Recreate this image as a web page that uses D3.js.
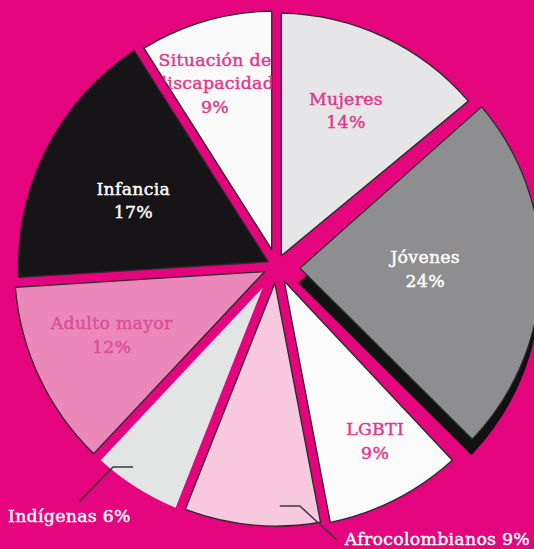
<!DOCTYPE html>
<html>
<head>
<meta charset="utf-8">
<script src="https://cdn.jsdelivr.net/npm/d3@7"></script>
<style>
  html, body { margin: 0; padding: 0; background: #e4047e; }
  svg { display: block; }
  text { font-family: "DejaVu Serif", "Liberation Serif", serif; font-size: 17.3px; letter-spacing: 0.3px; stroke-width: 0.45px; }
</style>
</head>
<body>
<svg id="chart" width="534" height="549"></svg>
<script>
// Population groups and their share of the total (%), clockwise from 12 o'clock
const categories = ["Mujeres", "Jóvenes", "LGBTI", "Afrocolombianos", "Indígenas",
                    "Adulto mayor", "Infancia", "Situación de discapacidad"];
const shares = [14, 24, 9, 9, 6, 12, 17, 9];
// How each category name is broken over lines inside its slice
const nameLines = [["Mujeres"], ["Jóvenes"], ["LGBTI"], ["Afrocolombianos"], ["Indígenas"],
                   ["Adulto mayor"], ["Infancia"], ["Situación de", "discapacidad"]];
// Groups labelled outside the pie with a leader line
const calloutGroups = ["Afrocolombianos", "Indígenas"];

// ---- styling ----
const W = 534, H = 549;
const cx = 276.5, cy = 266;          // pie centre
const halfGap = 4.8;                 // half width of the magenta gap between slices
const bg = "#e4047e";
const fills = {
  "Mujeres": "#e6e6e8", "Jóvenes": "#8e8e90", "LGBTI": "#fbfbfb", "Afrocolombianos": "#f8c8de",
  "Indígenas": "#e3e5e5", "Adulto mayor": "#ec88b9", "Infancia": "#161416",
  "Situación de discapacidad": "#fafafa"
};
const outerR = {
  "Mujeres": 253, "Jóvenes": 248, "LGBTI": 262, "Afrocolombianos": 260, "Indígenas": 262,
  "Adulto mayor": 262, "Infancia": 258, "Situación de discapacidad": 255
};
const outlined = { "Indígenas": false };
const textColor = {
  "Mujeres": "#e0388c", "Jóvenes": "#ffffff", "LGBTI": "#e0388c", "Adulto mayor": "#d9509a",
  "Infancia": "#ffffff", "Situación de discapacidad": "#e0388c"
};
// label anchor: [distance from centre, angular nudge in degrees from slice bisector]
const labelPlace = {
  "Mujeres": [165, -0.3], "Jóvenes": [149, -0.1], "LGBTI": [206, -1.6],
  "Adulto mayor": [181, 0.8], "Infancia": [155, -4.5], "Situación de discapacidad": [187, -3]
};
// leader lines: start [radius, nudge], elbow dx, then run to end (dx, dy)
const calloutPlace = {
  "Indígenas": { r: 247, nudge: 3.1, elbow: -20, run: [-34, 35], text: [-71, 20], anchor: "start" },
  "Afrocolombianos": { r: 240, nudge: -6.2, elbow: 20, run: [37, 34], text: [8, 5], anchor: "start" }
};
// Jóvenes is pulled out of the pie and tilted slightly, with a dark extruded side
const pulled = { name: "Jóvenes", dist: 16.6, dirNudge: 3, tilt: -2 };
const shadowShift = [-1, 15];
const lineGap = 23.5;

const svg = d3.select("#chart");
svg.append("rect").attr("width", W).attr("height", H).attr("fill", bg);

const arcs = d3.pie().sort(null).value(d => d)(shares);
arcs.forEach((a, i) => { a.name = categories[i]; a.lines = nameLines[i]; a.share = shares[i]; });

const padRadius = 100;
const arc = d3.arc()
  .innerRadius(d => halfGap / Math.sin((d.endAngle - d.startAngle) / 2) * 1.002)
  .outerRadius(d => outerR[d.name])
  .padRadius(padRadius)
  .padAngle(2 * Math.asin(halfGap / padRadius));

const polar = (r, ang) => [r * Math.sin(ang), -r * Math.cos(ang)];
const deg = Math.PI / 180;

const defs = svg.append("defs");
const pieG = svg.append("g");

arcs.forEach((d, i) => {
  let off = [0, 0], rot = 0;
  if (d.name === pulled.name) {
    off = polar(pulled.dist, (d.startAngle + d.endAngle) / 2 + pulled.dirNudge * deg);
    rot = pulled.tilt;
    pieG.append("path")
      .attr("transform", `translate(${cx + off[0] + shadowShift[0]},${cy + off[1] + shadowShift[1]}) rotate(${rot})`)
      .attr("d", arc(d))
      .attr("fill", "#111")
      .attr("stroke", "#111").attr("stroke-width", 1.2);
  }
  const tf = `translate(${cx + off[0]},${cy + off[1]}) rotate(${rot})`;
  pieG.append("path")
    .attr("transform", tf)
    .attr("d", arc(d))
    .attr("fill", fills[d.name])
    .attr("stroke", outlined[d.name] === false ? "none" : "#2a2a2a")
    .attr("stroke-width", 1.3);
  defs.append("clipPath").attr("id", "clip" + i)
    .append("path")
    .attr("transform", tf)
    .attr("d", arc(d));
});

// labels inside slices
const labelG = svg.append("g").attr("text-anchor", "middle");
arcs.filter(d => !calloutGroups.includes(d.name)).forEach(d => {
  const [r, nudge] = labelPlace[d.name];
  const p = polar(r, (d.startAngle + d.endAngle) / 2 + nudge * deg);
  const lines = d.lines.concat([d.share + "%"]);
  const x = cx + p[0];
  const y0 = cy + p[1] - (lines.length - 1) / 2 * lineGap;
  const t = labelG.append("text")
    .attr("clip-path", `url(#clip${d.index})`)
    .attr("fill", textColor[d.name])
    .attr("stroke", textColor[d.name]);
  lines.forEach((ln, k) => {
    t.append("tspan").attr("x", x).attr("y", y0 + k * lineGap).text(ln);
  });
});

// callout labels with leader lines
arcs.filter(d => calloutGroups.includes(d.name)).forEach(d => {
  const c = calloutPlace[d.name];
  const p = polar(c.r, (d.startAngle + d.endAngle) / 2 + c.nudge * deg);
  const s = [cx + p[0], cy + p[1]];
  const e = [s[0] + c.elbow, s[1]];
  const f = [e[0] + c.run[0], e[1] + c.run[1]];
  svg.append("path")
    .attr("d", d3.line()([s, e, f]))
    .attr("fill", "none").attr("stroke", "#3a3a3a").attr("stroke-width", 1.5);
  svg.append("text")
    .attr("x", f[0] + c.text[0]).attr("y", f[1] + c.text[1])
    .attr("text-anchor", c.anchor)
    .attr("fill", "#ffffff")
    .attr("stroke", "#ffffff")
    .text(d.name + " " + d.share + "%");
});
</script>
</body>
</html>
